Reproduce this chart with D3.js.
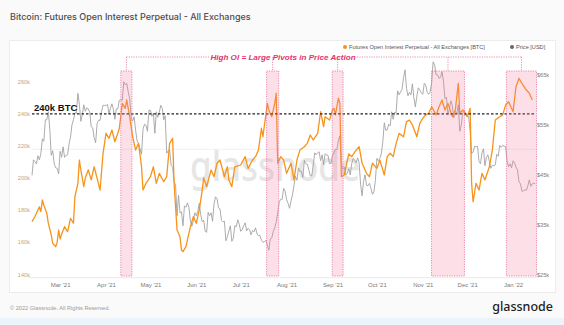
<!DOCTYPE html>
<html><head><meta charset="utf-8">
<script src="https://cdn.jsdelivr.net/npm/d3@7"></script>
<style>
html,body{margin:0;padding:0;background:#fafafa;}
svg{display:block;}
</style></head>
<body>
<svg id="c" width="564" height="325"></svg>
<script>
const chartTitle = "Bitcoin: Futures Open Interest Perpetual - All Exchanges";
const seriesNames = ["Futures Open Interest Perpetual - All Exchanges [BTC]", "Price [USD]"];
const annotationText = "High OI = Large Pivots in Price Action";
const refLabel = "240k BTC";
const refLevel = 240;
const leftTicks = [140, 160, 180, 200, 220, 240, 260];
const rightTicks = [25, 35, 45, 55, 65];
const monthTicks = ["2021-03-01","2021-04-01","2021-05-01","2021-06-01","2021-07-01","2021-08-01","2021-09-01","2021-10-01","2021-11-01","2021-12-01","2022-01-01"];
const highlightRanges = [["2021-04-11","2021-04-18T12:00"],["2021-07-18T12:00","2021-07-26T16:00"],["2021-08-31T20:00","2021-09-08T04:00"],["2021-11-06T22:00","2021-11-29T04:00"],["2021-12-27T12:00","2022-01-16T20:00"]];

// Futures open interest (thousand BTC)
const oiData = [
["2021-02-10",172.8],["2021-02-12",176],["2021-02-13",178],["2021-02-15",182],["2021-02-16",179],["2021-02-17",186.3],["2021-02-18",183],["2021-02-20",178],["2021-02-21",172],["2021-02-23",164.5],["2021-02-24",159.3],["2021-02-26",157.2],["2021-02-27",160],["2021-02-28",167.6],
["2021-03-01",162],["2021-03-02",165],["2021-03-04",169.7],["2021-03-06",166.5],["2021-03-08",174.9],["2021-03-10",171.8],["2021-03-11",188.4],["2021-03-13",196.7],["2021-03-14",211.2],["2021-03-15",205],["2021-03-17",194.6],["2021-03-18",200],["2021-03-20",205],["2021-03-22",198.8],["2021-03-23",203],["2021-03-24",207],["2021-03-26",199.8],["2021-03-28",192.5],["2021-03-30",215.4],
["2021-04-01",227.8],["2021-04-03",224.7],["2021-04-05",229.9],["2021-04-07",222.6],["2021-04-09",228],["2021-04-10",231],["2021-04-12",246.5],["2021-04-14",243.4],["2021-04-15",248.6],["2021-04-17",238.2],["2021-04-19",225.7],["2021-04-21",217.4],["2021-04-23",221.6],["2021-04-25",207],["2021-04-26",192.5],["2021-04-28",196.7],
["2021-05-01",200.8],["2021-05-03",207],["2021-05-05",196.7],["2021-05-07",202.9],["2021-05-10",197.7],["2021-05-12",200.8],["2021-05-14",221.6],["2021-05-16",224.7],["2021-05-17",196.7],["2021-05-19",167.6],["2021-05-21",163.4],["2021-05-22",155.1],["2021-05-23",154.1],["2021-05-25",157.2],["2021-05-28",169.7],["2021-05-30",175.9],
["2021-06-01",171.8],["2021-06-03",180],["2021-06-05",192.5],["2021-06-06",200],["2021-06-08",194.6],["2021-06-11",205],["2021-06-13",200.8],["2021-06-15",209.2],["2021-06-17",211.2],["2021-06-20",200.8],["2021-06-22",207],["2021-06-23",198.8],["2021-06-25",194.6],["2021-06-27",207],
["2021-07-01",208.1],["2021-07-04",213.3],["2021-07-06",206],["2021-07-09",211.2],["2021-07-11",213.3],["2021-07-13",217.4],["2021-07-15",231],["2021-07-16",225.7],["2021-07-19",246.5],["2021-07-20",242.4],["2021-07-22",238.2],["2021-07-24",246.5],["2021-07-25",252.8],["2021-07-26",209.2],["2021-07-28",213.3],["2021-07-30",211.2],
["2021-08-01",202.9],["2021-08-04",209.2],["2021-08-06",198.8],["2021-08-08",211.2],["2021-08-10",217.4],["2021-08-13",219.5],["2021-08-15",221.6],["2021-08-17",226.8],["2021-08-19",223.7],["2021-08-22",227.8],["2021-08-24",241.3],["2021-08-26",232],["2021-08-27",238.2],["2021-08-30",236.1],
["2021-09-01",242.4],["2021-09-02",243.4],["2021-09-03",239.3],["2021-09-05",249.7],["2021-09-06",246.5],["2021-09-07",200.8],["2021-09-09",201.9],["2021-09-12",215],["2021-09-14",213.3],["2021-09-17",217.4],["2021-09-19",219.5],["2021-09-21",209.2],["2021-09-24",202.9],["2021-09-26",200.8],["2021-09-28",209.2],
["2021-10-01",206],["2021-10-03",211.2],["2021-10-06",201.9],["2021-10-08",213.3],["2021-10-10",215.4],["2021-10-12",213.3],["2021-10-14",221.6],["2021-10-16",227.8],["2021-10-19",225.7],["2021-10-21",235.1],["2021-10-23",236.1],["2021-10-25",233],["2021-10-28",225.7],["2021-10-30",234],
["2021-11-01",237.2],["2021-11-03",239.3],["2021-11-05",240.3],["2021-11-07",244.4],["2021-11-10",239.3],["2021-11-12",244.4],["2021-11-14",248.6],["2021-11-16",242.4],["2021-11-18",246.5],["2021-11-21",238.2],["2021-11-23",242.4],["2021-11-25",259],["2021-11-26",240.3],["2021-11-28",242.4],
["2021-12-01",238.2],["2021-12-03",243.4],["2021-12-04",196.7],["2021-12-05",185.2],["2021-12-07",196.7],["2021-12-09",192.5],["2021-12-11",202.9],["2021-12-13",198.8],["2021-12-16",207],["2021-12-18",217.4],["2021-12-20",236.1],["2021-12-23",238.2],["2021-12-25",239.3],["2021-12-27",245.5],["2021-12-29",247.5],
["2022-01-01",241.3],["2022-01-03",256.9],["2022-01-05",262.1],["2022-01-07",259],["2022-01-10",254.8],["2022-01-12",252.8],["2022-01-14",248.6]
];

// BTC price (thousand USD), one value per day starting at priceStart
const priceStart = "2021-02-10";
const priceValues = [
44.8,47.9,47.5,47.1,48.7,47.9,49.2,52.1,51.6,55.9,55.9,57.5,54.2,48.8,49.7,47.1,46.3,46.2,45.1,
49.6,48.4,50.5,48.4,48.8,48.9,51.0,52.4,54.9,55.9,57.3,57.2,61.2,59.0,55.6,56.9,58.9,57.6,58.3,58.1,57.4,54.5,54.3,52.3,51.3,55.2,55.8,55.8,57.6,58.8,58.8,
58.7,59.0,57.1,58.2,59.1,58.0,56.0,58.1,58.1,59.8,59.9,59.8,63.5,62.9,63.2,61.5,60.1,56.2,55.7,56.5,53.8,51.7,51.1,50.1,49.0,54.0,55.0,54.8,53.6,57.8,
57.8,56.6,57.2,53.2,57.5,56.4,57.4,58.8,58.2,55.9,56.7,49.2,49.7,49.9,46.8,46.4,43.5,42.9,36.7,40.8,37.3,37.5,34.7,38.7,38.4,39.3,38.4,35.7,34.6,35.7,37.3,
36.7,37.6,39.2,36.9,35.5,35.8,33.6,33.4,37.4,36.7,37.3,35.6,39.1,40.5,40.1,38.3,38.1,35.8,35.5,35.6,31.7,32.5,33.7,34.7,31.6,32.2,34.7,34.5,35.9,35.0,
33.6,33.9,34.7,35.3,33.7,34.2,33.9,32.9,33.8,33.5,34.3,33.1,32.7,32.8,31.8,31.4,31.5,31.8,30.8,29.8,32.1,32.3,33.6,34.3,35.4,37.3,39.4,40.0,40.0,42.2,41.6,
39.9,39.2,38.2,39.7,40.9,42.8,44.6,43.8,46.3,45.6,45.6,44.4,47.8,47.1,47.0,45.9,44.7,44.7,46.8,49.3,48.9,49.3,49.5,47.7,48.9,46.9,49.1,48.9,48.8,47.1,47.2,
48.8,49.3,50.0,49.9,51.8,52.7,46.9,46.1,46.4,44.9,45.2,46.1,44.9,47.1,48.2,47.8,47.3,48.3,47.3,43.0,40.7,43.6,44.9,42.8,42.7,43.2,42.2,41.0,41.5,43.8,
48.2,47.7,48.2,49.1,51.5,55.3,53.8,53.9,55.0,54.7,57.5,56.0,57.4,57.3,61.7,60.9,61.5,62.0,64.3,65.9,62.2,60.7,61.4,60.9,63.1,60.3,58.5,60.6,62.3,61.9,61.3,
61.0,63.2,62.9,61.4,61.0,61.5,63.3,67.5,66.9,64.9,64.9,64.2,64.4,65.5,63.6,60.1,60.4,56.9,58.1,59.7,58.7,56.3,57.6,57.2,58.9,53.6,54.8,57.3,57.8,57.0,
56.9,56.5,53.6,49.2,49.4,50.6,50.5,50.6,47.6,47.1,49.3,50.1,46.7,48.4,48.9,47.6,46.2,46.8,46.7,46.9,49.0,48.6,50.8,50.4,50.8,50.6,50.6,47.5,46.5,47.1,46.3,
47.7,47.3,46.4,45.9,43.5,43.1,41.6,41.7,41.9,41.8,42.7,43.9,42.6,43.1,43.2,43.1
];

const svg = d3.select("#c");
const W = 564, H = 325;
const plot = {left: 32, right: 536, top: 71, bottom: 274.3};
const font = "'Liberation Sans', Arial, sans-serif";

// page pieces
svg.append("rect").attr("x",0).attr("y",0).attr("width",W).attr("height",H).attr("fill","#fafafa");
svg.append("rect").attr("x",0).attr("y",318).attr("width",W).attr("height",7).attr("fill","#edf3fa");
svg.append("rect").attr("x",9.5).attr("y",40.5).attr("width",546).attr("height",252).attr("fill","#ffffff").attr("stroke","#ececec");

svg.append("text").attr("x",10).attr("y",19.5).attr("font-family","Inter, 'Noto Sans', sans-serif").attr("font-weight",500)
  .attr("font-size",9).attr("fill","#4d4d4d").text(chartTitle);

const parse = d3.isoParse;
const x = d3.scaleUtc().domain([parse("2021-02-10"), parse("2022-01-16T12:00")]).range([plot.left, plot.right]);
const yL = d3.scaleLinear().domain([140, 140 + (plot.bottom - plot.top) / 1.605]).range([plot.bottom, plot.top]);
const yR = d3.scaleLinear().domain([25, 25 + (plot.bottom - plot.top) / 5]).range([plot.bottom, plot.top]);

// watermark
svg.append("text").attr("x",275).attr("y",181).attr("text-anchor","middle")
  .attr("font-family","'Noto Sans', sans-serif").attr("font-size",42).attr("font-weight",500)
  .attr("fill","#e6e6e6").attr("textLength",170).attr("lengthAdjust","spacingAndGlyphs").text("glassnode");

// faint grid line
svg.append("line").attr("x1",plot.left).attr("x2",plot.right).attr("y1",yR(50)).attr("y2",yR(50))
  .attr("stroke","#eeeeee").attr("stroke-width",0.8);

// x axis baseline
svg.append("line").attr("x1",28).attr("x2",537).attr("y1",277.7).attr("y2",277.7).attr("stroke","#e4e4e4").attr("stroke-width",0.8);

// axes
const ax = svg.append("g").attr("transform","translate(0,278)")
  .call(d3.axisBottom(x).tickValues(monthTicks.map(parse)).tickFormat(d3.utcFormat("%b '%y")).tickSize(0).tickPadding(5));
ax.select(".domain").remove();
ax.selectAll("text").attr("font-family",font).attr("font-size",6).attr("fill","#7a7a7a");

const al = svg.append("g").attr("transform",`translate(${plot.left},0)`)
  .call(d3.axisLeft(yL).tickValues(leftTicks).tickFormat(d => d + "k").tickSize(0).tickPadding(2));
al.select(".domain").remove();
al.selectAll("text").attr("font-family",font).attr("font-size",5.6).attr("fill","#c9a66b");

const ar = svg.append("g").attr("transform",`translate(${plot.right},0)`)
  .call(d3.axisRight(yR).tickValues(rightTicks).tickFormat(d => "$" + d + "k").tickSize(0).tickPadding(1));
ar.select(".domain").remove();
ar.selectAll("text").attr("font-family",font).attr("font-size",5.6).attr("fill","#7a7a7a");

// series
const oiPts = oiData.map(d => ({date: parse(d[0]), v: d[1]}));
const pricePts = priceValues.map((v, i) => ({date: d3.utcDay.offset(parse(priceStart), i), v}));

svg.append("path").datum(pricePts)
  .attr("d", d3.line().x(d => x(d.date)).y(d => yR(d.v)))
  .attr("fill","none").attr("stroke","#a3a3a3").attr("stroke-width",0.9).attr("stroke-linejoin","round");

svg.append("path").datum(oiPts)
  .attr("d", d3.line().x(d => x(d.date)).y(d => yL(d.v)))
  .attr("fill","none").attr("stroke","#f7931a").attr("stroke-width",1.3).attr("stroke-linejoin","round");

// reference line
svg.append("line").attr("x1",plot.left).attr("x2",plot.right).attr("y1",yL(refLevel)).attr("y2",yL(refLevel))
  .attr("stroke","#222").attr("stroke-width",1.3).attr("stroke-dasharray","2.5,2");
svg.append("text").attr("x",34).attr("y",yL(refLevel) - 2.5).attr("font-family",font).attr("font-weight","bold")
  .attr("font-size",9.5).attr("fill","#111").text(refLabel);

// highlight rects
const hl = highlightRanges.map(r => ({x0: x(parse(r[0])), x1: x(parse(r[1]))}));
svg.selectAll("rect.hl").data(hl).join("rect").attr("class","hl")
  .attr("x", d => d.x0).attr("y", plot.top).attr("width", d => d.x1 - d.x0).attr("height", 276 - plot.top)
  .attr("fill","rgba(247,120,160,0.24)").attr("stroke","#e8709a").attr("stroke-width",0.8).attr("stroke-dasharray","1.2,1.2");

// annotation bracket
const by = 57;
const centers = hl.map(d => (d.x0 + d.x1) / 2);
const textX = 283;
svg.append("line").attr("x1",centers[0]).attr("x2",209).attr("y1",by).attr("y2",by)
  .attr("stroke","#e8709a").attr("stroke-width",0.8).attr("stroke-dasharray","1.2,1.2");
svg.append("line").attr("x1",357).attr("x2",centers[centers.length-1]).attr("y1",by).attr("y2",by)
  .attr("stroke","#e8709a").attr("stroke-width",0.8).attr("stroke-dasharray","1.2,1.2");
svg.selectAll("line.tick-hl").data(centers).join("line").attr("class","tick-hl")
  .attr("x1", d => d).attr("x2", d => d).attr("y1", by).attr("y2", plot.top)
  .attr("stroke","#e8709a").attr("stroke-width",0.8).attr("stroke-dasharray","1.2,1.2");
svg.append("text").attr("x",textX).attr("y",by + 3).attr("text-anchor","middle")
  .attr("font-family",font).attr("font-weight","bold").attr("font-style","italic").attr("font-size",8.1)
  .attr("fill","#e6336e").text(annotationText);

// legend
const lg = [{x:345, color:"#f7931a", name: seriesNames[0]}, {x:512, color:"#666", name: seriesNames[1]}];
lg.forEach(d => {
  svg.append("circle").attr("cx", d.x).attr("cy", 47).attr("r", 2).attr("fill", d.color);
  svg.append("text").attr("x", d.x + 4).attr("y", 49).attr("font-family", font).attr("font-size", 5.6).attr("fill","#555").text(d.name);
});

// footer
svg.append("text").attr("x",10).attr("y",310).attr("font-family",font).attr("font-size",5.6).attr("fill","#9a9a9a")
  .text("© 2022 Glassnode. All Rights Reserved.");
svg.append("text").attr("x",553).attr("y",311).attr("text-anchor","end").attr("font-family","'Noto Sans', sans-serif")
  .attr("font-size",12.5).attr("font-weight",500).attr("fill","#222").text("glassnode");
</script>
</body></html>
